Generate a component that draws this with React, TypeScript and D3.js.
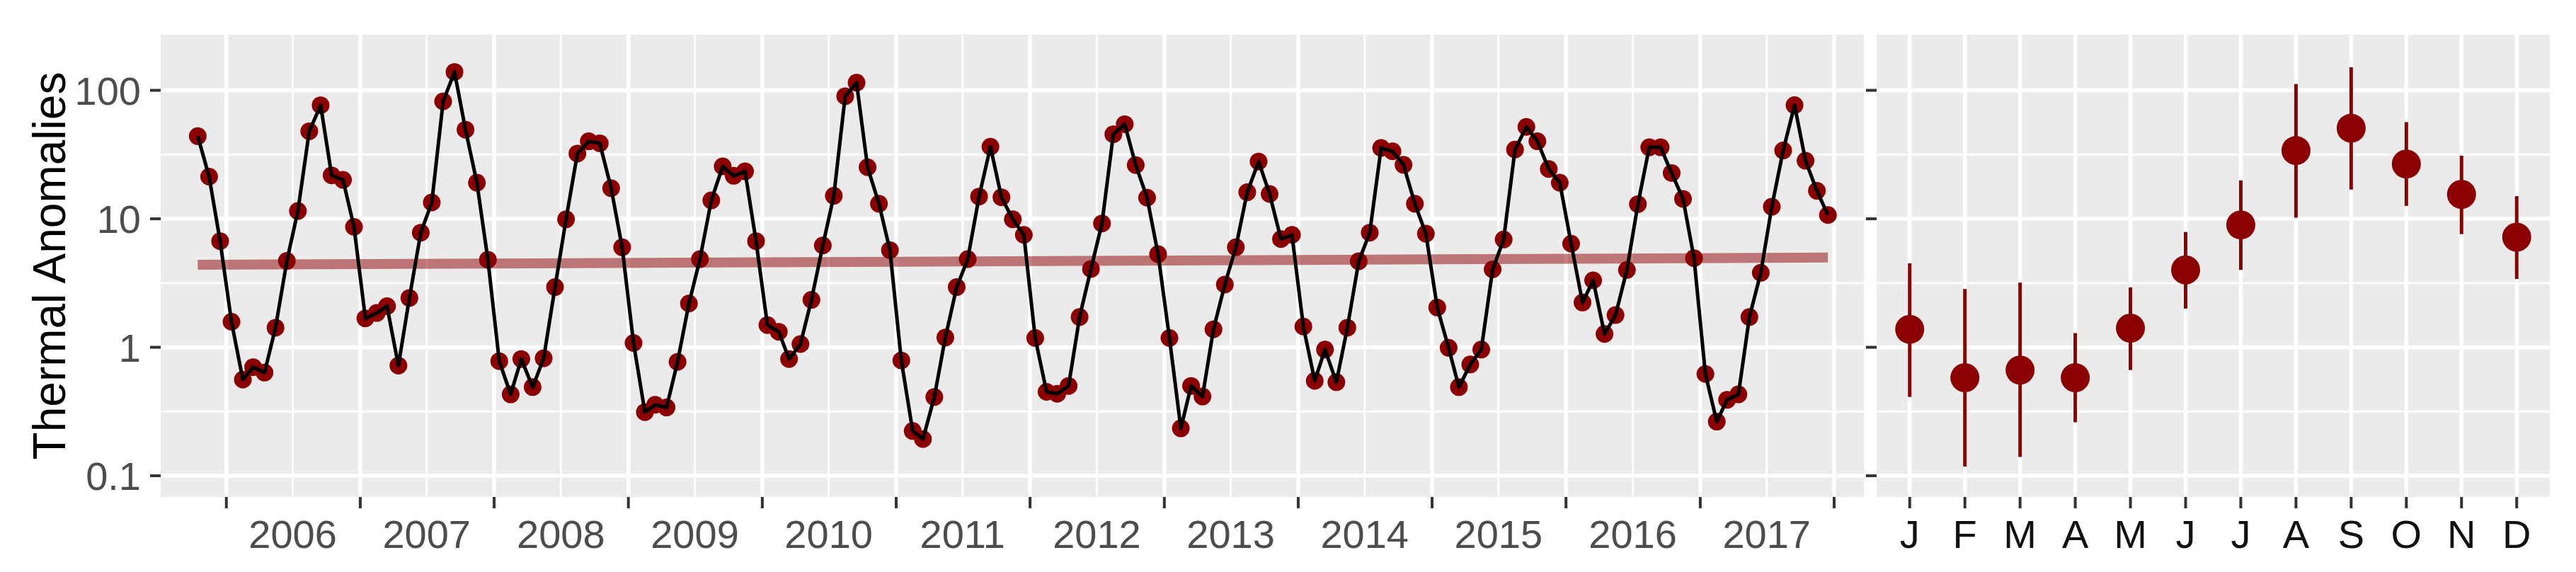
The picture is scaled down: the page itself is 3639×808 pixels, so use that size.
import React from "react";
import * as d3 from "d3";

// monthly thermal anomaly counts, Oct 2005 .. Dec 2017
const seriesStart = "2005-10-15";
const monthlyAnomalies = [
  44, 21.3, 6.7,
  1.58, 0.56, 0.7, 0.635, 1.42, 4.7, 11.5, 48, 76.5, 21.8, 20.1, 8.65,
  1.68, 1.85, 2.09, 0.72, 2.42, 7.8, 13.4, 82, 139, 49.4, 19.1, 4.8,
  0.78, 0.43, 0.81, 0.49, 0.82, 2.94, 9.9, 32.2, 40.1, 38.7, 17.3, 6.0,
  1.08, 0.313, 0.357, 0.34, 0.77, 2.19, 4.85, 13.9, 25.6, 21.6, 23.4, 6.7,
  1.49, 1.32, 0.81, 1.06, 2.34, 6.2, 15.1, 90, 114.6, 25.2, 13.1, 5.7,
  0.79, 0.223, 0.193, 0.41, 1.19, 2.94, 4.85, 14.9, 36.4, 14.7, 9.9, 7.5,
  1.18, 0.45, 0.435, 0.5, 1.72, 4.07, 9.2, 45.5, 54.5, 26.2, 14.6, 5.3,
  1.18, 0.234, 0.5, 0.414, 1.38, 3.08, 6.0, 16.1, 27.9, 15.6, 6.95, 7.5,
  1.45, 0.548, 0.96, 0.535, 1.42, 4.67, 7.8, 35.6, 33.5, 26.3, 13.1, 7.66,
  2.04, 0.99, 0.49, 0.735, 0.96, 4.04, 6.9, 34.6, 51.9, 40.1, 24.4, 19.1,
  6.4, 2.23, 3.32, 1.27, 1.78, 4.0, 13.0, 36.0, 36.0, 22.7, 14.3, 4.94,
  0.62, 0.264, 0.39, 0.43, 1.72, 3.8, 12.4, 34.0, 76.6, 28.3, 16.5, 10.7,
];

// seasonal summary (geometric mean and spread per calendar month)
const monthLetters = ["J", "F", "M", "A", "M", "J", "J", "A", "S", "O", "N", "D"];
const monthMean = [1.38, 0.58, 0.665, 0.58, 1.41, 4.0, 8.97, 34, 50.7, 26.7, 15.5, 7.2];
const monthLow = [0.41, 0.118, 0.14, 0.261, 0.665, 2.0, 4.0, 10.2, 16.9, 12.6, 7.6, 3.4];
const monthHigh = [4.5, 2.84, 3.19, 1.29, 2.93, 7.9, 19.9, 112, 151, 56.6, 31.0, 15.0];

const yMajor = [0.1, 1, 10, 100];
const yMinor = [0.316, 3.16, 31.6];
const yLabels = ["0.1", "1", "10", "100"];
const yearLabels = [2006, 2007, 2008, 2009, 2010, 2011, 2012, 2013, 2014, 2015, 2016, 2017];

const W = 3639;
const H = 808;
const panelTop = 49;
const panelBottom = 702;
const left = { x0: 227, x1: 2633 };
const right = { x0: 2651, x1: 3602 };

const FONT = "'Liberation Sans', Arial, Helvetica, sans-serif";
const RED = "#8B0000";
const GRID_MAJOR = 5.5;
const GRID_MINOR = 2.8;

const App = () => {
  const start = new Date(seriesStart + "T00:00:00Z");
  const data = monthlyAnomalies.map((v, i) => ({ date: d3.utcMonth.offset(start, i), value: v }));

  const y = d3.scaleLog().domain([0.0684, 271]).range([panelBottom, panelTop]);
  const x = d3.scaleUtc()
    .domain([new Date(Date.UTC(2005, 6, 6)), new Date(Date.UTC(2018, 2, 23))])
    .range([left.x0, left.x1]);
  const xm = d3.scalePoint<number>().domain(d3.range(12)).range([right.x0, right.x1]).padding(0.6);

  const yearStarts = d3.utcYears(x.domain()[0], x.domain()[1]);
  const midYears = d3.utcMonths(x.domain()[0], x.domain()[1]).filter(d => d.getUTCMonth() === 6);

  // linear fit in log space (geom_smooth lm)
  const xs = data.map(d => +d.date);
  const ls = data.map(d => Math.log10(d.value));
  const mx = d3.mean(xs)!;
  const ml = d3.mean(ls)!;
  const slope = d3.sum(xs, (v, i) => (v - mx) * (ls[i] - ml)) / d3.sum(xs, v => (v - mx) ** 2);
  const fit = (t: number) => Math.pow(10, ml + slope * (t - mx));
  const trend = [data[0].date, data[data.length - 1].date].map(d => ({ date: d, value: fit(+d) }));

  const line = d3.line<{ date: Date; value: number }>().x(d => x(d.date)).y(d => y(d.value));

  const hGrid = (x0: number, x1: number) => (
    <g>
      {yMinor.map(v => (
        <line key={"mi" + v} x1={x0} x2={x1} y1={y(v)} y2={y(v)} stroke="#fff" strokeWidth={GRID_MINOR} />
      ))}
      {yMajor.map(v => (
        <line key={"ma" + v} x1={x0} x2={x1} y1={y(v)} y2={y(v)} stroke="#fff" strokeWidth={GRID_MAJOR} />
      ))}
    </g>
  );

  return (
    <svg width={W} height={H} style={{ position: "absolute", left: 0, top: 0, background: "#fff" }} fontFamily={FONT}>
      {/* left panel */}
      <rect x={left.x0} y={panelTop} width={left.x1 - left.x0} height={panelBottom - panelTop} fill="#EBEBEB" />
      {midYears.map(d => (
        <line key={"vm" + +d} x1={x(d)} x2={x(d)} y1={panelTop} y2={panelBottom} stroke="#fff" strokeWidth={GRID_MINOR} />
      ))}
      {hGrid(left.x0, left.x1)}
      {yearStarts.map(d => (
        <line key={"vM" + +d} x1={x(d)} x2={x(d)} y1={panelTop} y2={panelBottom} stroke="#fff" strokeWidth={GRID_MAJOR} />
      ))}

      <path d={line(trend) || ""} stroke={RED} strokeOpacity={0.5} strokeWidth={14} fill="none" />
      {data.map((d, i) => (
        <circle key={"p" + i} cx={x(d.date)} cy={y(d.value)} r={12.5} fill={RED} />
      ))}
      <path d={line(data) || ""} stroke="#000" strokeWidth={5} fill="none" strokeLinejoin="round" />

      {/* right panel */}
      <rect x={right.x0} y={panelTop} width={right.x1 - right.x0} height={panelBottom - panelTop} fill="#EBEBEB" />
      {hGrid(right.x0, right.x1)}
      {d3.range(12).map(i => (
        <line key={"rv" + i} x1={xm(i)} x2={xm(i)} y1={panelTop} y2={panelBottom} stroke="#fff" strokeWidth={GRID_MAJOR} />
      ))}
      {d3.range(12).map(i => (
        <g key={"pr" + i}>
          <line x1={xm(i)} x2={xm(i)} y1={y(monthLow[i])} y2={y(monthHigh[i])} stroke={RED} strokeWidth={5} />
          <circle cx={xm(i)} cy={y(monthMean[i])} r={20.5} fill={RED} />
        </g>
      ))}

      {/* axes */}
      {yMajor.map((v, i) => (
        <g key={"yt" + v}>
          <line x1={212} x2={left.x0} y1={y(v)} y2={y(v)} stroke="#333" strokeWidth={4} />
          <line x1={right.x0 - 15} x2={right.x0} y1={y(v)} y2={y(v)} stroke="#333" strokeWidth={4} />
          <text x={199} y={y(v)} dy="0.36em" textAnchor="end" fontSize={56} fill="#4D4D4D">{yLabels[i]}</text>
        </g>
      ))}
      {yearStarts.map(d => (
        <line key={"xt" + +d} x1={x(d)} x2={x(d)} y1={panelBottom} y2={panelBottom + 16} stroke="#333" strokeWidth={4} />
      ))}
      {midYears.filter(d => yearLabels.includes(d.getUTCFullYear())).map(d => (
        <text key={"yl" + +d} x={x(d)} y={774} textAnchor="middle" fontSize={56} fill="#4D4D4D">{d.getUTCFullYear()}</text>
      ))}
      {monthLetters.map((m, i) => (
        <g key={"ml" + i}>
          <line x1={xm(i)} x2={xm(i)} y1={panelBottom} y2={panelBottom + 16} stroke="#333" strokeWidth={4} />
          <text x={xm(i)} y={774} textAnchor="middle" fontSize={56} fill="#111">{m}</text>
        </g>
      ))}
      <text transform={`translate(92, ${(panelTop + panelBottom) / 2}) rotate(-90)`} textAnchor="middle" fontSize={64} fill="#000">
        Thermal Anomalies
      </text>
    </svg>
  );
};

export default App;
